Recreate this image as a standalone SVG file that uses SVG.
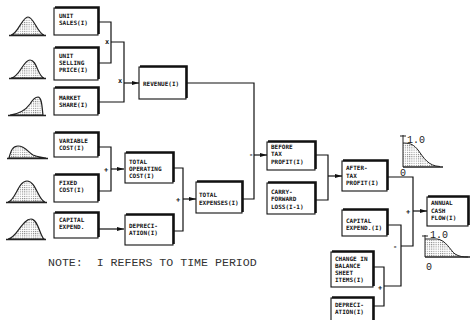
<svg xmlns="http://www.w3.org/2000/svg" width="472" height="320" viewBox="0 0 472 320">
  <style>
    .bx rect{fill:#fff;stroke:#111;stroke-width:1.1}
    .bx path{fill:none;stroke:#111;stroke-width:2.4}
    .bx text{font-family:"DejaVu Sans Mono","Liberation Mono",monospace;font-weight:bold;font-size:6px;fill:#111}
    .ln{fill:none;stroke:#111;stroke-width:1.2}
    .op{font-family:"DejaVu Sans Mono","Liberation Mono",monospace;font-weight:bold;font-size:7px;fill:#111;text-anchor:middle}
    .pdf{fill:url(#dots);stroke:#222;stroke-width:1.2}
    .base{stroke:#222;stroke-width:1.3}
    .ax{fill:none;stroke:#222;stroke-width:1}
    .num{font-family:"Liberation Mono",monospace;font-size:10px;fill:#222}
    .note{font-family:"Liberation Mono",monospace;font-size:11.6px;fill:#333}
  </style>
  <defs>
    <pattern id="dots" width="2.2" height="2.2" patternUnits="userSpaceOnUse">
      <rect width="2.2" height="2.2" fill="#fff"/>
      <rect width="1" height="1" fill="#777"/>
    </pattern>
    <marker id="arr" markerWidth="7" markerHeight="5" refX="7" refY="2.5" orient="auto" markerUnits="userSpaceOnUse">
      <path d="M0,0.6 L7,2.5 L0,4.4 z" fill="#111"/>
    </marker>
  </defs>

  <!-- input distributions -->
  <g id="dist-unit-sales">
    <path class="pdf" d="M11,35 C18,34 22,17 28,17 C34,17 37,33 44,35 Z"/>
    <line class="base" x1="9" y1="35.5" x2="46" y2="35.5"/>
  </g>
  <g id="dist-unit-price">
    <path class="pdf" d="M11,78 C20,77 23,60 30,60 C37,60 38,77 44,78 Z"/>
    <line class="base" x1="9" y1="78.5" x2="46" y2="78.5"/>
  </g>
  <g id="dist-market-share">
    <path class="pdf" d="M10,115 C18,114 25,111 30,104 C33,99 35,97 38,97 C42,97 42,108 43,115 Z"/>
    <line class="base" x1="8" y1="115.5" x2="46" y2="115.5"/>
  </g>
  <g id="dist-variable-cost">
    <path class="pdf" d="M9,158 C11,150 13,146 18,146 C25,146 28,152 33,155 C37,157 41,157 46,158 Z"/>
    <line class="base" x1="7" y1="158.5" x2="48" y2="158.5"/>
  </g>
  <g id="dist-fixed-cost">
    <path class="pdf" d="M8,202 C16,200 18,181 27,181 C36,181 38,200 45,202 Z"/>
    <line class="base" x1="6" y1="202.5" x2="47" y2="202.5"/>
  </g>
  <g id="dist-capital">
    <path class="pdf" d="M8,239 C17,238 22,219 31,219 C38,219 40,236 44,239 Z"/>
    <line class="base" x1="6" y1="239.5" x2="46" y2="239.5"/>
  </g>

  <!-- connectors -->
  <g id="connectors">
    <polyline class="ln" points="98,22 111,22 111,63 98,63"/>
    <polyline class="ln" points="111,42 124,42 124,102 98,102"/>
    <line class="ln" x1="124" y1="83" x2="139" y2="83" marker-end="url(#arr)"/>
    <polyline class="ln" points="98,147 111,147 111,191 98,191"/>
    <line class="ln" x1="111" y1="169" x2="124" y2="169" marker-end="url(#arr)"/>
    <line class="ln" x1="98" y1="229" x2="124" y2="229" marker-end="url(#arr)"/>
    <polyline class="ln" points="173,168 183,168 183,231 173,231"/>
    <line class="ln" x1="183" y1="199" x2="196" y2="199" marker-end="url(#arr)"/>
    <polyline class="ln" points="186,83 254,83 254,199 242,199"/>
    <line class="ln" x1="254" y1="155" x2="267" y2="155" marker-end="url(#arr)"/>
    <polyline class="ln" points="315,155 328,155 328,200 315,200"/>
    <line class="ln" x1="328" y1="176" x2="342" y2="176" marker-end="url(#arr)"/>
    <polyline class="ln" points="387,177 413,177 413,246 401,246"/>
    <line class="ln" x1="413" y1="211" x2="427" y2="211" marker-end="url(#arr)"/>
    <polyline class="ln" points="387,225 401,225 401,286 384,286"/>
    <polyline class="ln" points="373,267 384,267 384,306 373,306"/>
    <text class="op" x="107" y="44">x</text>
    <text class="op" x="120" y="83">x</text>
    <text class="op" x="106" y="172">+</text>
    <text class="op" x="178" y="202">+</text>
    <text class="op" x="251" y="157">-</text>
    <text class="op" x="408" y="214">+</text>
    <text class="op" x="395" y="249">-</text>
    <text class="op" x="380" y="290">+</text>
  </g>

  <!-- nodes -->
  <g id="unit-sales" class="bx" transform="translate(54,8)">
    <rect width="44" height="27"/><path d="M1,-0.6 H44.6 V26"/>
    <text x="5" y="10">UNIT</text><text x="5" y="17">SALES(I)</text>
  </g>
  <g id="unit-selling-price" class="bx" transform="translate(54,48)">
    <rect width="44" height="32"/><path d="M1,-0.6 H44.6 V31"/>
    <text x="5" y="10">UNIT</text><text x="5" y="17">SELLING</text><text x="5" y="24">PRICE(I)</text>
  </g>
  <g id="market-share" class="bx" transform="translate(54,88)">
    <rect width="44" height="27"/><path d="M1,-0.6 H44.6 V26"/>
    <text x="5" y="12">MARKET</text><text x="5" y="19">SHARE(I)</text>
  </g>
  <g id="revenue" class="bx" transform="translate(139,67)">
    <rect width="47" height="32"/><path d="M1,-0.6 H47.6 V31"/>
    <text x="4" y="19">REVENUE(I)</text>
  </g>
  <g id="variable-cost" class="bx" transform="translate(54,133)">
    <rect width="44" height="24"/><path d="M1,-0.6 H44.6 V23"/>
    <text x="5" y="10">VARIABLE</text><text x="5" y="17">COST(I)</text>
  </g>
  <g id="fixed-cost" class="bx" transform="translate(54,175)">
    <rect width="44" height="27"/><path d="M1,-0.6 H44.6 V26"/>
    <text x="5" y="10">FIXED</text><text x="5" y="17">COST(I)</text>
  </g>
  <g id="capital-expend" class="bx" transform="translate(54,213)">
    <rect width="44" height="25"/><path d="M1,-0.6 H44.6 V24"/>
    <text x="5" y="9">CAPITAL</text><text x="5" y="16">EXPEND.</text>
  </g>
  <g id="total-operating-cost" class="bx" transform="translate(125,153)">
    <rect width="48" height="30"/><path d="M1,-0.6 H48.6 V29"/>
    <text x="4" y="11">TOTAL</text><text x="4" y="18">OPERATING</text><text x="4" y="25">COST(I)</text>
  </g>
  <g id="depreciation" class="bx" transform="translate(125,215)">
    <rect width="48" height="30"/><path d="M1,-0.6 H48.6 V29"/>
    <text x="4" y="13">DEPRECI-</text><text x="4" y="20">ATION(I)</text>
  </g>
  <g id="total-expenses" class="bx" transform="translate(196,182)">
    <rect width="46" height="31"/><path d="M1,-0.6 H46.6 V30"/>
    <text x="3" y="15">TOTAL</text><text x="3" y="23">EXPENSES(I)</text>
  </g>
  <g id="before-tax-profit" class="bx" transform="translate(267,142)">
    <rect width="48" height="28"/><path d="M1,-0.6 H48.6 V27"/>
    <text x="4" y="7">BEFORE</text><text x="4" y="14">TAX</text><text x="4" y="22">PROFIT(I)</text>
  </g>
  <g id="carry-forward-loss" class="bx" transform="translate(267,183)">
    <rect width="48" height="31"/><path d="M1,-0.6 H48.6 V30"/>
    <text x="4" y="11">CARRY-</text><text x="4" y="18">FORWARD</text><text x="4" y="26">LOSS(I-1)</text>
  </g>
  <g id="after-tax-profit" class="bx" transform="translate(342,161)">
    <rect width="45" height="30"/><path d="M1,-0.6 H45.6 V29"/>
    <text x="4" y="9">AFTER-</text><text x="4" y="17">TAX</text><text x="4" y="24">PROFIT(I)</text>
  </g>
  <g id="capital-expend-2" class="bx" transform="translate(342,210)">
    <rect width="45" height="26"/><path d="M1,-0.6 H45.6 V25"/>
    <text x="4" y="13">CAPITAL</text><text x="4" y="20">EXPEND.(I)</text>
  </g>
  <g id="annual-cash-flow" class="bx" transform="translate(427,197)">
    <rect width="41" height="29"/><path d="M1,-0.6 H41.6 V28"/>
    <text x="4" y="8">ANNUAL</text><text x="4" y="16">CASH</text><text x="4" y="23">FLOW(I)</text>
  </g>
  <g id="balance-sheet-items" class="bx" transform="translate(331,252)">
    <rect width="42" height="35"/><path d="M1,-0.6 H42.6 V34"/>
    <text x="4" y="9">CHANGE IN</text><text x="4" y="16">BALANCE</text><text x="4" y="23">SHEET</text><text x="4" y="30">ITEMS(I)</text>
  </g>
  <g id="depreciation-2" class="bx" transform="translate(331,298)">
    <rect width="42" height="24"/><path d="M1,-0.6 H42.6 V23"/>
    <text x="4" y="9">DEPRECI-</text><text x="4" y="16">ATION(I)</text>
  </g>

  <!-- output cumulative distributions -->
  <g id="cdf-after-tax">
    <path d="M403,143 C411,143 414,145 418,150 C424,158 428,166 440,166.5 L403,166.5 Z" fill="url(#dots)"/>
    <path class="ax" d="M403,143 C411,143 414,145 418,150 C424,158 428,166 440,166.5"/>
    <line class="ax" x1="403" y1="135" x2="403" y2="167"/>
    <line class="ax" x1="400" y1="136" x2="406" y2="136"/>
    <line class="base" x1="403" y1="167" x2="443" y2="167"/>
    <text class="num" x="407" y="143">1.0</text>
    <text class="num" x="400" y="176">0</text>
  </g>
  <g id="cdf-cash-flow">
    <path d="M425,239 L437,239 C446,240 450,250 455,254 C459,256.5 463,257 468,257 L425,257 Z" fill="url(#dots)"/>
    <path class="ax" d="M425,239 L437,239 C446,240 450,250 455,254 C459,256.5 463,257 468,257"/>
    <line class="ax" x1="425" y1="235" x2="425" y2="257"/>
    <line class="ax" x1="422" y1="236" x2="428" y2="236"/>
    <line class="base" x1="425" y1="257" x2="470" y2="257"/>
    <text class="num" x="430" y="238">1.0</text>
    <text class="num" x="426" y="270">0</text>
  </g>

  <text class="note" x="48" y="266" xml:space="preserve">NOTE:  I REFERS TO TIME PERIOD</text>
</svg>
